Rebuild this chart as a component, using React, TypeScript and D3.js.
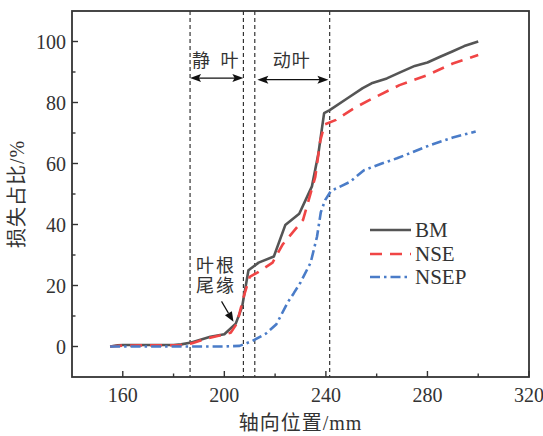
import React from "react";
import * as d3 from "d3";

// Cumulative loss share along the axial direction
const bmX = [155, 158, 160, 170, 180, 183, 187, 194.5, 200, 204.5, 207, 209.5, 213.5, 219.5, 224, 229.5, 234.5, 237, 239.3, 241.5, 248.5, 254.5, 258, 264, 269, 275, 280, 285, 290, 294.5, 300];
const bmY = [0, 0.4, 0.5, 0.5, 0.5, 0.7, 1.3, 3.2, 4.0, 7.5, 13, 25, 27.5, 29.5, 39.8, 43.5, 52.5, 63, 76.5, 77.5, 81.4, 84.7, 86.3, 87.9, 89.8, 92, 93.1, 95, 96.8, 98.5, 100];

const nseX = [155, 160, 170, 180, 183, 187, 194, 200, 202.5, 205, 207.5, 210, 213.5, 219, 223, 231, 235.8, 237.8, 239.5, 244, 251, 259, 269, 280, 290, 300];
const nseY = [0, 0.3, 0.4, 0.4, 0.5, 1.0, 2.8, 4.0, 4.5, 7.6, 16, 22.8, 24.5, 27.5, 33.5, 41.5, 55.5, 67.5, 72.8, 74.3, 78.1, 81.6, 85.7, 89, 92.8, 95.6];

const nsepX = [155, 170, 190, 200, 206, 211, 216.5, 220.5, 225, 227.3, 230, 234, 236.5, 238, 239.7, 242, 249.5, 255, 262, 268, 281, 290, 299];
const nsepY = [0, 0, 0, 0, 0.2, 1.8, 4.3, 7.3, 14.5, 17.4, 21, 27.5, 36, 44, 48, 51, 54, 57.8, 60, 61.7, 66, 68.5, 70.5];

const seriesNames = ["BM", "NSE", "NSEP"];

// Stage boundaries (mm) and the spans they mark
const dividers = [186.5, 207.5, 212, 241.5];
const stageNames = ["静 叶", "动叶"];
const stageSpans = [[186.5, 207.5], [213, 241]];
const stageArrowY = [88, 87.5];
const stageLabelX = [197, 226.6];
const stageLabelY = [91.5, 91.5];

// Trailing-edge callout
const calloutLines = ["叶根", "尾缘"];
const calloutFrom = [198.9, 14.8];
const calloutTo = [203.6, 8.1];

const xTicks = [160, 200, 240, 280, 320];
const xMinor = [180, 220, 260, 300];
const yTicks = [0, 20, 40, 60, 80, 100];
const yMinor = [10, 30, 50, 70, 90];

const W = 543;
const H = 436;
const m = { left: 72, right: 529, top: 11, bottom: 377 };

const serif = "'Liberation Serif', 'Times New Roman', serif";
const cjk = "'Liberation Serif', 'Noto Sans CJK SC', serif";

export default function App() {
  const x = d3.scaleLinear().domain([140, 320]).range([m.left, m.right]);
  const y = d3.scaleLinear().domain([-10, 110]).range([m.bottom, m.top]);

  const line = (xs: number[], ys: number[]) =>
    d3.line<number>().x((_, i) => x(xs[i])).y((_, i) => y(ys[i]))(xs.map((_, i) => i)) || "";

  const styles = [
    { color: "#555555", dash: "none", width: 2.6 },
    { color: "#f04545", dash: "12 8", width: 2.6 },
    { color: "#4a7cc8", dash: "10 4 2.5 4", width: 2.6 },
  ];
  const paths = [line(bmX, bmY), line(nseX, nseY), line(nsepX, nsepY)];

  const arrowHead = (px: number, py: number, dir: number) => {
    const L = 11, hw = 4;
    return `M${px},${py} L${px - dir * L},${py - hw} L${px - dir * L * 0.8},${py} L${px - dir * L},${py + hw} Z`;
  };

  // callout arrow geometry
  const cx0 = x(calloutFrom[0]), cy0 = y(calloutFrom[1]);
  const cx1 = x(calloutTo[0]), cy1 = y(calloutTo[1]);
  const ang = Math.atan2(cy1 - cy0, cx1 - cx0);
  const hl = 10, hw = 4;
  const bx = cx1 - hl * Math.cos(ang), by = cy1 - hl * Math.sin(ang);
  const calloutHead = `M${cx1},${cy1} L${bx + hw * Math.sin(ang)},${by - hw * Math.cos(ang)} L${bx - hw * Math.sin(ang)},${by + hw * Math.cos(ang)} Z`;

  const legendY = [230, 254, 277];

  return (
    <svg width={W} height={H} style={{ display: "block", position: "absolute", left: 0, top: 0, background: "#fff" }}>
      <defs>
        <clipPath id="plot">
          <rect x={m.left} y={m.top} width={m.right - m.left} height={m.bottom - m.top} />
        </clipPath>
      </defs>

      {/* stage dividers */}
      {dividers.map((d, i) => (
        <line key={i} x1={x(d)} x2={x(d)} y1={m.top} y2={m.bottom} stroke="#222" strokeWidth={1.1} strokeDasharray="4 3" />
      ))}

      {/* stage span arrows */}
      {stageSpans.map((s, i) => {
        const x0 = x(s[0]), x1 = x(s[1]), yy = y(stageArrowY[i]);
        return (
          <g key={i}>
            <line x1={x0 + 6} x2={x1 - 6} y1={yy} y2={yy} stroke="#111" strokeWidth={1.3} />
            <path d={arrowHead(x0, yy, -1)} fill="#111" />
            <path d={arrowHead(x1, yy, 1)} fill="#111" />
          </g>
        );
      })}
      {stageNames.map((n, i) => (
        <text key={n} x={x(stageLabelX[i])} y={y(stageLabelY[i])} textAnchor="middle" fontFamily={cjk} fontSize={18} fill="#333" letterSpacing={i === 0 ? 3 : 1}>
          {n}
        </text>
      ))}

      {/* series */}
      <g clipPath="url(#plot)">
        {paths.map((p, i) => (
          <path key={i} d={p} fill="none" stroke={styles[i].color} strokeWidth={styles[i].width}
            strokeDasharray={styles[i].dash} strokeLinejoin="round" />
        ))}
      </g>

      {/* callout */}
      {calloutLines.map((t, i) => (
        <text key={t} x={216} y={272 + i * 20} textAnchor="middle" fontFamily={cjk} fontSize={18} fill="#333" letterSpacing={2}>
          {t}
        </text>
      ))}
      <line x1={cx0} y1={cy0} x2={bx} y2={by} stroke="#111" strokeWidth={1.2} />
      <path d={calloutHead} fill="#111" />

      {/* legend */}
      {seriesNames.map((n, i) => (
        <g key={n}>
          <line x1={370} x2={411} y1={legendY[i]} y2={legendY[i]} stroke={styles[i].color}
            strokeWidth={styles[i].width} strokeDasharray={styles[i].dash} />
          <text x={415} y={legendY[i]} dominantBaseline="central" fontFamily={serif} fontSize={21} fill="#333">
            {n}
          </text>
        </g>
      ))}

      {/* frame */}
      <rect x={m.left} y={m.top} width={m.right - m.left} height={m.bottom - m.top} fill="none" stroke="#333" strokeWidth={1.8} />

      {/* x axis ticks */}
      {xTicks.map((t) => (
        <g key={t}>
          <line x1={x(t)} x2={x(t)} y1={m.bottom} y2={m.bottom - 6} stroke="#333" strokeWidth={1.4} />
          <text x={x(t)} y={402} textAnchor="middle" fontFamily={serif} fontSize={20} fill="#333">{t}</text>
        </g>
      ))}
      {xMinor.map((t) => (
        <line key={t} x1={x(t)} x2={x(t)} y1={m.bottom} y2={m.bottom - 3.5} stroke="#333" strokeWidth={1.4} />
      ))}

      {/* y axis ticks */}
      {yTicks.map((t) => (
        <g key={t}>
          <line x1={m.left} x2={m.left + 6} y1={y(t)} y2={y(t)} stroke="#333" strokeWidth={1.4} />
          <text x={66} y={y(t)} textAnchor="end" dominantBaseline="central" fontFamily={serif} fontSize={20} fill="#333">{t}</text>
        </g>
      ))}
      {yMinor.map((t) => (
        <line key={t} x1={m.left} x2={m.left + 3.5} y1={y(t)} y2={y(t)} stroke="#333" strokeWidth={1.4} />
      ))}

      {/* axis titles */}
      <text x={(m.left + m.right) / 2} y={430} textAnchor="middle" fontFamily={cjk} fontSize={20} fill="#333" letterSpacing={1}>
        轴向位置/mm
      </text>
      <text transform={`translate(24, ${(m.top + m.bottom) / 2}) rotate(-90)`} textAnchor="middle" fontFamily={cjk} fontSize={20} fill="#333" letterSpacing={1}>
        损失占比/%
      </text>
    </svg>
  );
}
